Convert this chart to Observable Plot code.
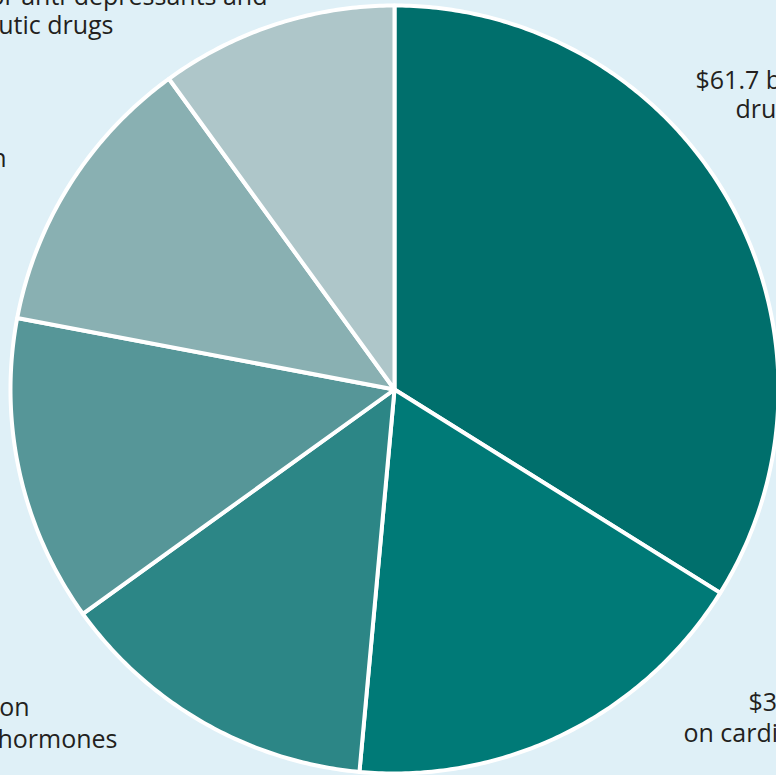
<!DOCTYPE html>
<html><head><meta charset="utf-8">
<script src="https://cdn.jsdelivr.net/npm/d3@7"></script>
<script src="https://cdn.jsdelivr.net/npm/@observablehq/plot@0.6"></script>
<style>
html,body{margin:0;padding:0;background:#DFF0F7;overflow:hidden}
#chart svg{display:block;background:transparent}
</style></head><body><div id="chart"></div>
<script>
// ---- data ----
const categories = ["Cancer", "Cardiovascular", "Hormones", "Anti-infectives", "Respiratory", "Psychotherapeutic"];
const values = [61.7, 32.0, 24.8, 23.5, 21.9, 18.2];
const labelTexts = [
  ["$61.7 billion on", "drugs for cancer"],
  ["$32.0 billion", "on cardiovascular drugs"],
  ["$24.8 billion spent on", "sex hormones"],
  ["$23.5 billion on drugs for infection"],
  ["$21.9 billion for anti-depressants and", "other psychotherapeutic drugs"]
];

// ---- styling / layout (not data) ----
const colors = ["#006F6C", "#007A77", "#2C8686", "#569698", "#89B0B2", "#AEC6C9"];
const W = 776, H = 775, CX = 394, CY = 389, R = 384;
const px = x => (x - CX) / R, py = y => (CY - y) / R;

// build slice polygons from values
const total = d3.sum(values);
let acc = 0;
const pts = [];
categories.forEach((c, i) => {
  const a0 = acc / total * 2 * Math.PI;
  acc += values[i];
  const a1 = acc / total * 2 * Math.PI;
  pts.push({cat: c, x: 0, y: 0});
  const n = Math.max(2, Math.ceil((a1 - a0) / 0.01));
  for (let k = 0; k <= n; k++) {
    const a = a0 + (a1 - a0) * k / n;
    pts.push({cat: c, x: Math.sin(a), y: Math.cos(a)});
  }
});

// label placement (pixel baselines)
const place = [
  {anchor: "start", pos: [[695, 88], [735, 117]]},
  {anchor: "start", pos: [[748, 710], [683, 741]]},
  {anchor: "end", pos: [[29, 715], [117, 747]]},
  {anchor: "end", pos: [[6, 166]]},
  {anchor: "end", pos: [[267, 4], [113, 33]]}
];
const startRows = [], endRows = [];
labelTexts.forEach((lines, i) => {
  lines.forEach((t, j) => {
    const row = {text: t, x: px(place[i].pos[j][0]), y: py(place[i].pos[j][1])};
    (place[i].anchor === "start" ? startRows : endRows).push(row);
  });
});

const textOpts = {x: "x", y: "y", text: "text", fontSize: 25, fill: "#231F20",
  fontFamily: "'Open Sans', 'Noto Sans', sans-serif", lineAnchor: "bottom"};

const chart = Plot.plot({
  width: W, height: H,
  margin: 0,
  x: {domain: [px(0), px(W)], axis: null},
  y: {domain: [py(H), py(0)], axis: null},
  color: {domain: categories, range: colors},
  marks: [
    Plot.line(pts, {x: "x", y: "y", z: "cat", fill: "cat", stroke: "white",
      strokeWidth: 4, strokeLinejoin: "round", curve: "linear-closed"}),
    Plot.text(startRows, {...textOpts, textAnchor: "start"}),
    Plot.text(endRows, {...textOpts, textAnchor: "end"})
  ]
});
document.getElementById("chart").append(chart);
</script>
</body></html>
